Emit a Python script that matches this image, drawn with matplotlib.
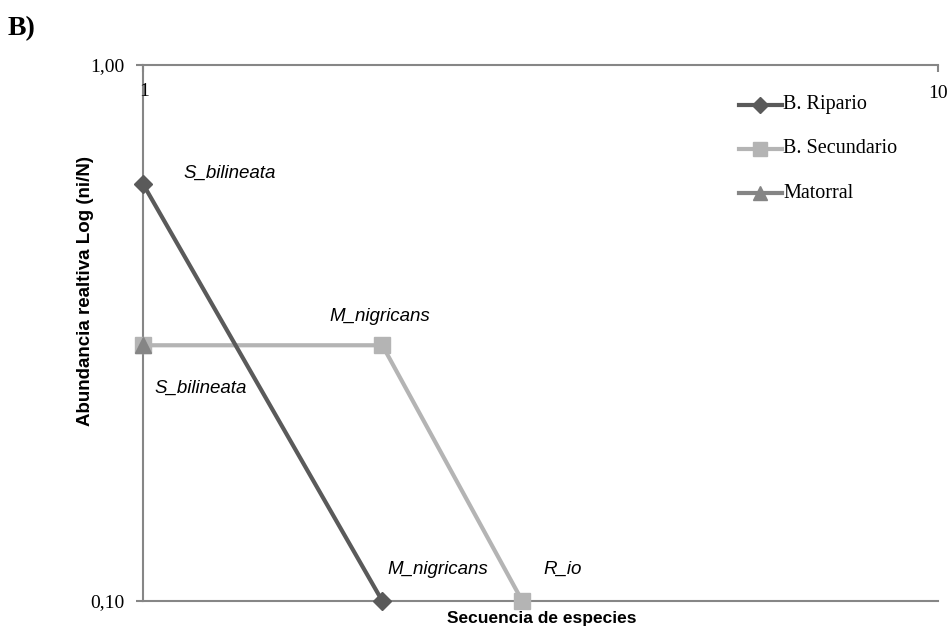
import matplotlib
matplotlib.use("Agg")
import matplotlib.pyplot as plt  # noqa: E402
from matplotlib.lines import Line2D  # noqa: E402

# rank-abundance data (log-log)
ripario_rank = [1, 2]
ripario_abund = [0.6, 0.1]
secundario_rank = [1, 2, 3]
secundario_abund = [0.3, 0.3, 0.1]
matorral_rank = [1]
matorral_abund = [0.3]

series_names = ["B. Ripario", "B. Secundario", "Matorral"]
colors = ["#5a5a5a", "#b4b4b4", "#858585"]
markers = ["D", "s", "^"]

# species labels: (text, x, y, offset in pixels)
species_labels = [
    ("S_bilineata", 1, 0.6, (40, 11)),
    ("M_nigricans", 2, 0.3, (-53, 29)),
    ("S_bilineata", 1, 0.3, (11, -43)),
    ("M_nigricans", 2, 0.1, (5, 32)),
    ("R_io", 3, 0.1, (21, 32)),
]

W, H = 951, 629
fig = plt.figure(figsize=(W / 100, H / 100), dpi=100)
ax = fig.add_axes([143 / W, 1 - 601 / H, (938 - 143) / W, (601 - 65) / H])

ax.plot(ripario_rank, ripario_abund, color=colors[0], marker=markers[0],
        markersize=9.5, lw=3, clip_on=False, zorder=4)
ax.plot(secundario_rank, secundario_abund, color=colors[1], marker=markers[1],
        markersize=12, lw=3, clip_on=False, zorder=3)
ax.plot(matorral_rank, matorral_abund, color=colors[2], marker=markers[2],
        markersize=11, lw=3, clip_on=False, zorder=5)

ax.set_xscale("log")
ax.set_yscale("log")
ax.set_xlim(1, 10)
ax.set_ylim(0.1, 1.0)

spine_col = "#868686"
for side in ["left", "top", "bottom"]:
    ax.spines[side].set_color(spine_col)
    ax.spines[side].set_linewidth(1.5)
ax.spines["right"].set_visible(False)

ax.set_yticks([0.1, 1.0])
ax.set_yticklabels(["0,10", "1,00"], family="Liberation Serif", fontsize=14)
ax.yaxis.set_minor_locator(matplotlib.ticker.NullLocator())
ax.tick_params(axis="y", length=5, width=1.5, color=spine_col, pad=8)

ax.xaxis.tick_top()
ax.set_xticks([1, 10])
ax.set_xticklabels([])
ax.xaxis.set_minor_locator(matplotlib.ticker.NullLocator())
ax.tick_params(axis="x", direction="in", length=5, width=1.5, color=spine_col)
fig.text(144 / W, 1 - 91 / H, "1", family="Liberation Serif", fontsize=14,
         ha="center", va="center")
fig.text(938 / W, 1 - 93 / H, "10", family="Liberation Serif", fontsize=14,
         ha="center", va="center")

for text, x, y, off in species_labels:
    ax.annotate(text, (x, y), xytext=off, textcoords="offset pixels",
                family="Liberation Sans", style="italic", fontsize=13.5,
                ha="left", va="center")

fig.text(542 / W, 1 - 619 / H, "Secuencia de especies", family="Liberation Sans",
         weight="bold", fontsize=12.5, ha="center", va="center")
fig.text(86 / W, 1 - 291 / H, "Abundancia realtiva Log (ni/N)",
         family="Liberation Sans", weight="bold", fontsize=13.5,
         rotation=90, ha="center", va="center")

fig.text(8 / W, 1 - 29 / H, "B)", family="Liberation Serif", weight="bold",
         fontsize=20, ha="left", va="center")

# legend drawn by hand so each row sits where wanted
legend_rows = [105, 149, 193]
for name, col, mk, row in zip(series_names, colors, markers, legend_rows):
    yf = 1 - row / H
    fig.add_artist(Line2D([739 / W, 782 / W], [yf, yf], color=col, lw=3,
                          transform=fig.transFigure))
    fig.add_artist(Line2D([760 / W], [yf], color=col, marker=mk,
                          markersize=8 if mk == "D" else 10,
                          transform=fig.transFigure))
    fig.text(783 / W, yf, name, family="Liberation Serif", fontsize=14.5,
             ha="left", va="center")

fig.savefig("out.png", dpi=100)
